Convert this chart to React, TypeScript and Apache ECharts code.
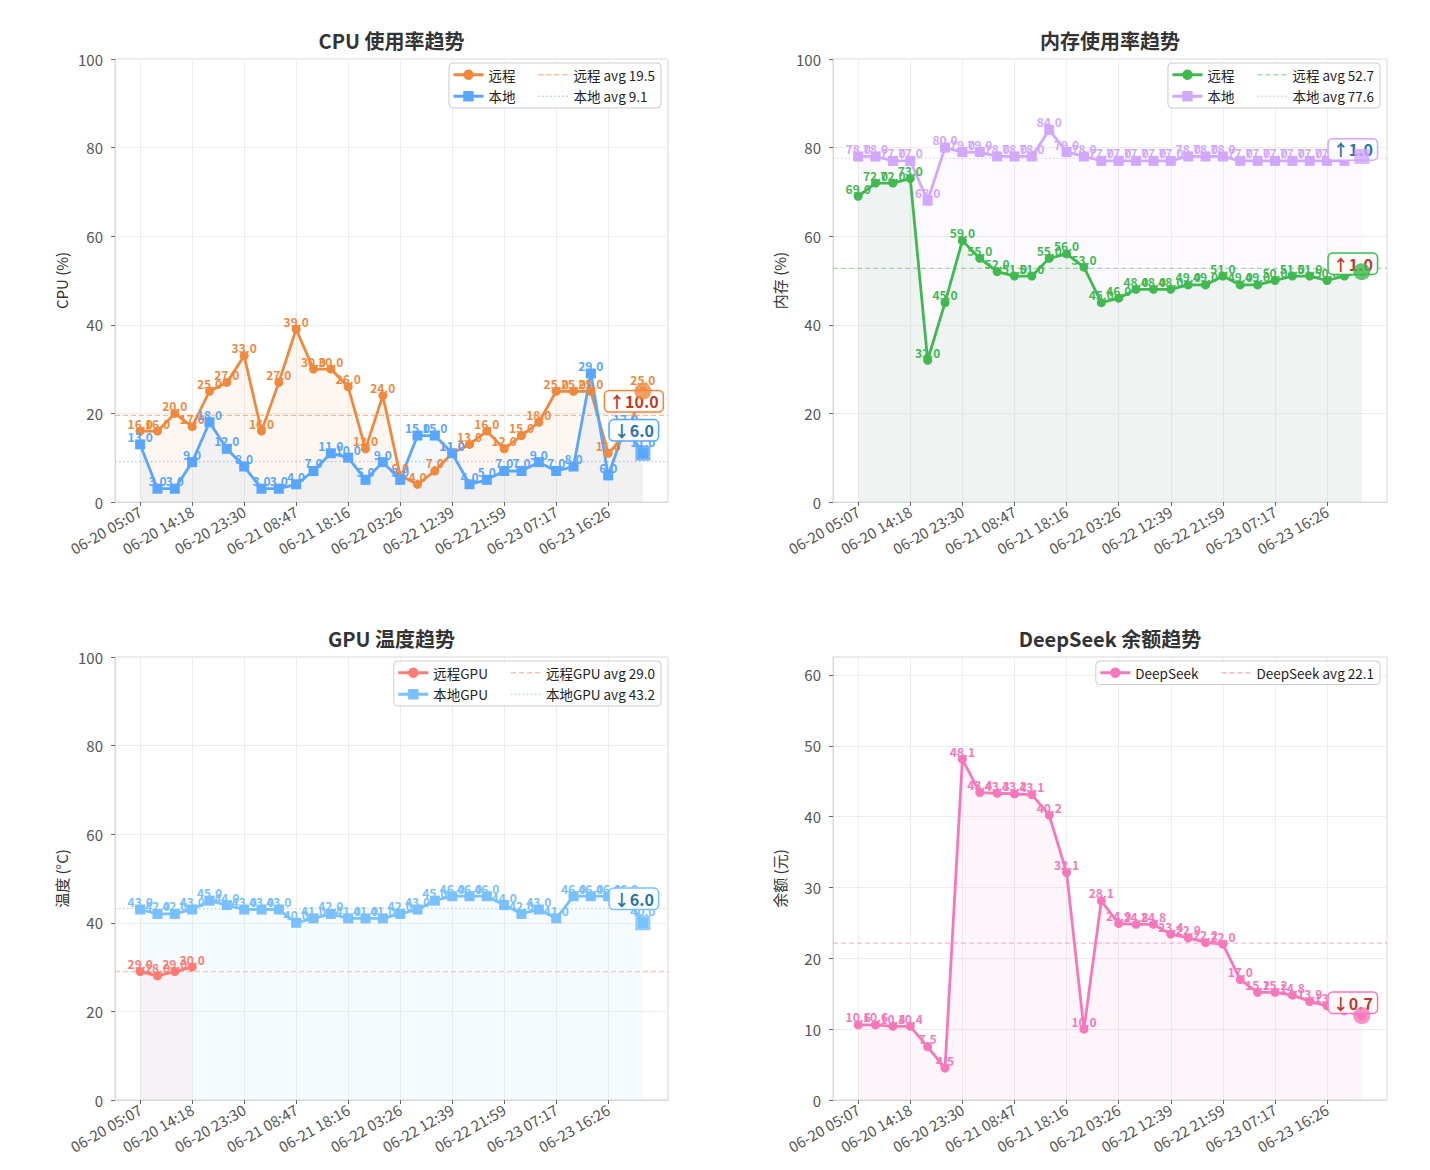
import React, { useEffect, useRef } from 'react';
import * as echarts from 'echarts';

// ---------------- data ----------------
const TIME_LABELS = [
  '06-20 05:07', '06-20 14:18', '06-20 23:30', '06-21 08:47', '06-21 18:16',
  '06-22 03:26', '06-22 12:39', '06-22 21:59', '06-23 07:17', '06-23 16:26',
];
const LABEL_STEP = 3;

const CPU_REMOTE = [16, 16, 20, 17, 25, 27, 33, 16, 27, 39, 30, 30, 26, 12, 24, 6, 4, 7, 11, 13, 16, 12, 15, 18, 25, 25, 25, 11, 15, 25];
const CPU_LOCAL = [13, 3, 3, 9, 18, 12, 8, 3, 3, 4, 7, 11, 10, 5, 9, 5, 15, 15, 11, 4, 5, 7, 7, 9, 7, 8, 29, 6, 17, 11];
const MEM_REMOTE = [69, 72, 72, 73, 32, 45, 59, 55, 52, 51, 51, 55, 56, 53, 45, 46, 48, 48, 48, 49, 49, 51, 49, 49, 50, 51, 51, 50, 51, 52];
const MEM_LOCAL = [78, 78, 77, 77, 68, 80, 79, 79, 78, 78, 78, 84, 79, 78, 77, 77, 77, 77, 77, 78, 78, 78, 77, 77, 77, 77, 77, 77, 77, 78];
const GPU_REMOTE = [29, 28, 29, 30];
const GPU_LOCAL = [43, 42, 42, 43, 45, 44, 43, 43, 43, 40, 41, 42, 41, 41, 41, 42, 43, 45, 46, 46, 46, 44, 42, 43, 41, 46, 46, 46, 46, 40];
const DEEPSEEK = [10.6, 10.6, 10.4, 10.4, 7.5, 4.5, 48.1, 43.4, 43.3, 43.2, 43.1, 40.2, 32.1, 10.0, 28.1, 24.9, 24.8, 24.8, 23.4, 22.9, 22.2, 22.0, 17.0, 15.2, 15.2, 14.8, 13.9, 13.3, 12.6, 11.9];

const PCT_Y_TICKS = [0, 20, 40, 60, 80, 100];
const DS_Y_TICKS = [0, 10, 20, 30, 40, 50, 60];

// ---------------- styling / layout ----------------
const FONT = "'Noto Sans CJK SC', 'Noto Sans', sans-serif";
const N = CPU_LOCAL.length;
const X_MIN = -0.05 * (N - 1);
const X_MAX = (N - 1) * 1.05;
const X_TICKS = TIME_LABELS.map((_, i) => i * LABEL_STEP);

const UP_DOWN_COLORS = ['#c0392b', '#2874a6'];

type SeriesCfg = {
  name: string;
  data: number[];
  color: string;
  avgColor: string;
  symbol: 'circle' | 'rect';
  avgDash: number[];
  box: [number, number] | null;
};

type PanelCfg = {
  title: string;
  yName: string;
  grid: { left: number; top: number; width: number; height: number };
  yMax: number;
  yTicks: number[];
  legendRight: number;
  legendTop: number;
  series: SeriesCfg[];
};

const DASHED = [5, 3];
const DOTTED = [1.5, 2.5];

const PANELS: PanelCfg[] = [
  {
    title: 'CPU 使用率趋势',
    yName: 'CPU (%)',
    grid: { left: 115, top: 59, width: 553, height: 443 },
    yMax: 100,
    yTicks: PCT_Y_TICKS,
    legendRight: 769,
    legendTop: 63,
    series: [
      { name: '远程', data: CPU_REMOTE, color: '#f0883e', avgColor: 'rgba(240,136,62,0.55)', symbol: 'circle', avgDash: DASHED, box: [-9, 10] },
      { name: '本地', data: CPU_LOCAL, color: '#58a6ff', avgColor: 'rgba(88,166,255,0.55)', symbol: 'rect', avgDash: DOTTED, box: [-9, -23] },
    ],
  },
  {
    title: '内存使用率趋势',
    yName: '内存 (%)',
    grid: { left: 833, top: 59, width: 554, height: 443 },
    yMax: 100,
    yTicks: PCT_Y_TICKS,
    legendRight: 50,
    legendTop: 63,
    series: [
      { name: '远程', data: MEM_REMOTE, color: '#3fb950', avgColor: 'rgba(63,185,80,0.5)', symbol: 'circle', avgDash: DASHED, box: [-9, -8] },
      { name: '本地', data: MEM_LOCAL, color: '#d2a8ff', avgColor: 'rgba(210,168,255,0.6)', symbol: 'rect', avgDash: DOTTED, box: [-9, -7] },
    ],
  },
  {
    title: 'GPU 温度趋势',
    yName: '温度 (°C)',
    grid: { left: 115, top: 657, width: 553, height: 443 },
    yMax: 100,
    yTicks: PCT_Y_TICKS,
    legendRight: 769,
    legendTop: 661,
    series: [
      { name: '远程GPU', data: GPU_REMOTE, color: '#ff7b72', avgColor: 'rgba(255,123,114,0.5)', symbol: 'circle', avgDash: DASHED, box: null },
      { name: '本地GPU', data: GPU_LOCAL, color: '#79c0ff', avgColor: 'rgba(121,192,255,0.6)', symbol: 'rect', avgDash: DOTTED, box: [-9, -24] },
    ],
  },
  {
    title: 'DeepSeek 余额趋势',
    yName: '余额 (元)',
    grid: { left: 833, top: 657, width: 554, height: 443 },
    yMax: Math.max(...DEEPSEEK) * 1.3,
    yTicks: DS_Y_TICKS,
    legendRight: 50,
    legendTop: 661,
    series: [
      { name: 'DeepSeek', data: DEEPSEEK, color: '#f778ba', avgColor: 'rgba(247,120,186,0.55)', symbol: 'circle', avgDash: DASHED, box: [-9, -13] },
    ],
  },
];

const avgOf = (arr: number[]) => arr.reduce((a, b) => a + b, 0) / arr.length;
const avgName = (s: SeriesCfg) => `${s.name} avg ${avgOf(s.data).toFixed(1)}`;

function buildOption() {
  const series: any[] = [];
  PANELS.forEach((p, pi) => {
    p.series.forEach((s, si) => {
      const last = s.data.length - 1;
      const lastVal = s.data[last];
      const diff = lastVal - s.data[last - 1];
      const boxText = (diff >= 0 ? '↑' : '↓') + Math.abs(diff).toFixed(1);
      const main: any = {
        type: 'line',
        name: s.name,
        xAxisIndex: pi,
        yAxisIndex: pi,
        data: s.data.map((v, i) =>
          i === last && s.box ? { value: [i, v], label: { offset: [0, -12] } } : [i, v]
        ),
        symbol: s.symbol,
        symbolSize: s.symbol === 'circle' ? 9 : 10,
        showAllSymbol: true,
        lineStyle: { width: 2.8, color: s.color },
        itemStyle: { color: s.color },
        areaStyle: { color: s.color, opacity: 0.07 },
        label: {
          show: true,
          position: 'inside',
          offset: [0, -8],
          formatter: (prm: any) => Number(prm.value[1]).toFixed(1),
          color: s.color,
          fontSize: 12,
          fontWeight: 'bold',
          fontFamily: FONT,
        },
        z: 2,
        silent: true,
      };
      if (s.box) {
        main.markPoint = {
          symbol: 'circle',
          symbolSize: 1,
          silent: true,
          itemStyle: { color: 'rgba(0,0,0,0)', borderWidth: 0 },
          label: {
            show: true,
            position: 'inside',
            offset: s.box,
            formatter: boxText,
            color: UP_DOWN_COLORS[si],
            fontSize: 16,
            fontWeight: 'bold',
            fontFamily: FONT,
            backgroundColor: 'rgba(255,255,255,0.92)',
            borderColor: s.color,
            borderWidth: 1.5,
            borderRadius: 4,
            padding: [3, 4, 1, 4],
          },
          data: [{ coord: [last, lastVal], value: lastVal }],
        };
      }
      series.push(main);
      const avg = avgOf(s.data);
      series.push({
        type: 'line',
        name: avgName(s),
        xAxisIndex: pi,
        yAxisIndex: pi,
        data: [[X_MIN, avg], [X_MAX, avg]],
        symbol: 'none',
        lineStyle: { width: 1.3, color: s.avgColor, type: s.avgDash },
        itemStyle: { color: s.avgColor },
        silent: true,
        z: 1,
      });
      if (s.box) {
        series.push({
          type: 'scatter',
          name: `${s.name}-latest-${pi}`,
          xAxisIndex: pi,
          yAxisIndex: pi,
          data: [[last, lastVal]],
          symbol: s.symbol,
          symbolSize: s.symbol === 'circle' ? 17 : 15,
          itemStyle: { color: s.color },
          silent: true,
          z: 6,
        });
      }
    });
  });

  return {
    animation: false,
    textStyle: { fontFamily: FONT },
    title: PANELS.map((p) => ({
      text: p.title,
      left: p.grid.left + p.grid.width / 2,
      top: p.grid.top - 29,
      textAlign: 'center',
      textVerticalAlign: 'top',
      padding: 0,
      textStyle: { fontSize: 20, fontWeight: 'bold', color: '#333', fontFamily: FONT },
    })),
    grid: PANELS.map((p) => ({
      left: p.grid.left,
      top: p.grid.top,
      width: p.grid.width,
      height: p.grid.height,
      show: true,
      borderColor: '#d9d9d9',
      borderWidth: 1,
      backgroundColor: 'rgba(0,0,0,0)',
    })),
    xAxis: PANELS.map((p, i) => ({
      type: 'value',
      gridIndex: i,
      min: X_MIN,
      max: X_MAX,
      axisLine: { show: true, onZero: false, lineStyle: { color: '#d9d9d9' } },
      axisTick: { show: true, customValues: X_TICKS, length: 4, lineStyle: { color: '#666' } },
      axisLabel: {
        customValues: X_TICKS,
        rotate: 30,
        margin: 8,
        color: '#555',
        fontSize: 15,
        fontFamily: FONT,
        formatter: (v: number) => TIME_LABELS[Math.round(v / LABEL_STEP)] ?? '',
      },
      splitLine: { show: true, lineStyle: { color: '#eeeeee' } },
    })),
    yAxis: PANELS.map((p, i) => ({
      type: 'value',
      gridIndex: i,
      min: 0,
      max: p.yMax,
      name: p.yName,
      nameLocation: 'middle',
      nameGap: 46,
      nameTextStyle: { fontSize: 15, color: '#333', fontFamily: FONT },
      axisLine: { show: true, onZero: false, lineStyle: { color: '#d9d9d9' } },
      axisTick: { show: true, customValues: p.yTicks, length: 4, lineStyle: { color: '#666' } },
      axisLabel: { customValues: p.yTicks, margin: 12, color: '#555', fontSize: 15, fontFamily: FONT },
      splitLine: { show: true, lineStyle: { color: '#eeeeee' } },
    })),
    legend: PANELS.map((p) => ({
      orient: 'vertical',
      right: p.legendRight,
      top: p.legendTop,
      height: p.series.length === 1 ? 16 : 38,
      itemWidth: 30,
      itemHeight: 13,
      itemGap: 8,
      padding: [5, 6, 5, 3],
      backgroundColor: 'rgba(255,255,255,0.85)',
      borderColor: '#cccccc',
      borderWidth: 1,
      borderRadius: 4,
      selectedMode: false,
      data: [
        ...p.series.map((s) => ({
          name: s.name,
          itemStyle: { color: s.color },
          lineStyle: { color: s.color, width: 3 },
        })),
        ...p.series.map((s) => ({
          name: avgName(s),
          itemStyle: { color: 'rgba(0,0,0,0)', opacity: 0, borderWidth: 0 },
          lineStyle: { color: s.avgColor, width: 1.3, type: s.avgDash },
        })),
      ],
      formatter: (name: string) => (name.includes(' avg ') ? name : name + '\u3000'),
      textStyle: {
        fontSize: 13.5,
        color: '#222',
        fontFamily: FONT,
      },
    })),
    series,
  };
}

export default function App() {
  const ref = useRef<HTMLDivElement>(null);
  useEffect(() => {
    if (!ref.current) return;
    const chart = echarts.init(ref.current, null, { renderer: 'svg' });
    chart.setOption(buildOption() as any);
    return () => chart.dispose();
  }, []);
  return (
    <div
      ref={ref}
      style={{ position: 'absolute', left: 0, top: 0, width: 1430, height: 1170, background: '#fff' }}
    />
  );
}
